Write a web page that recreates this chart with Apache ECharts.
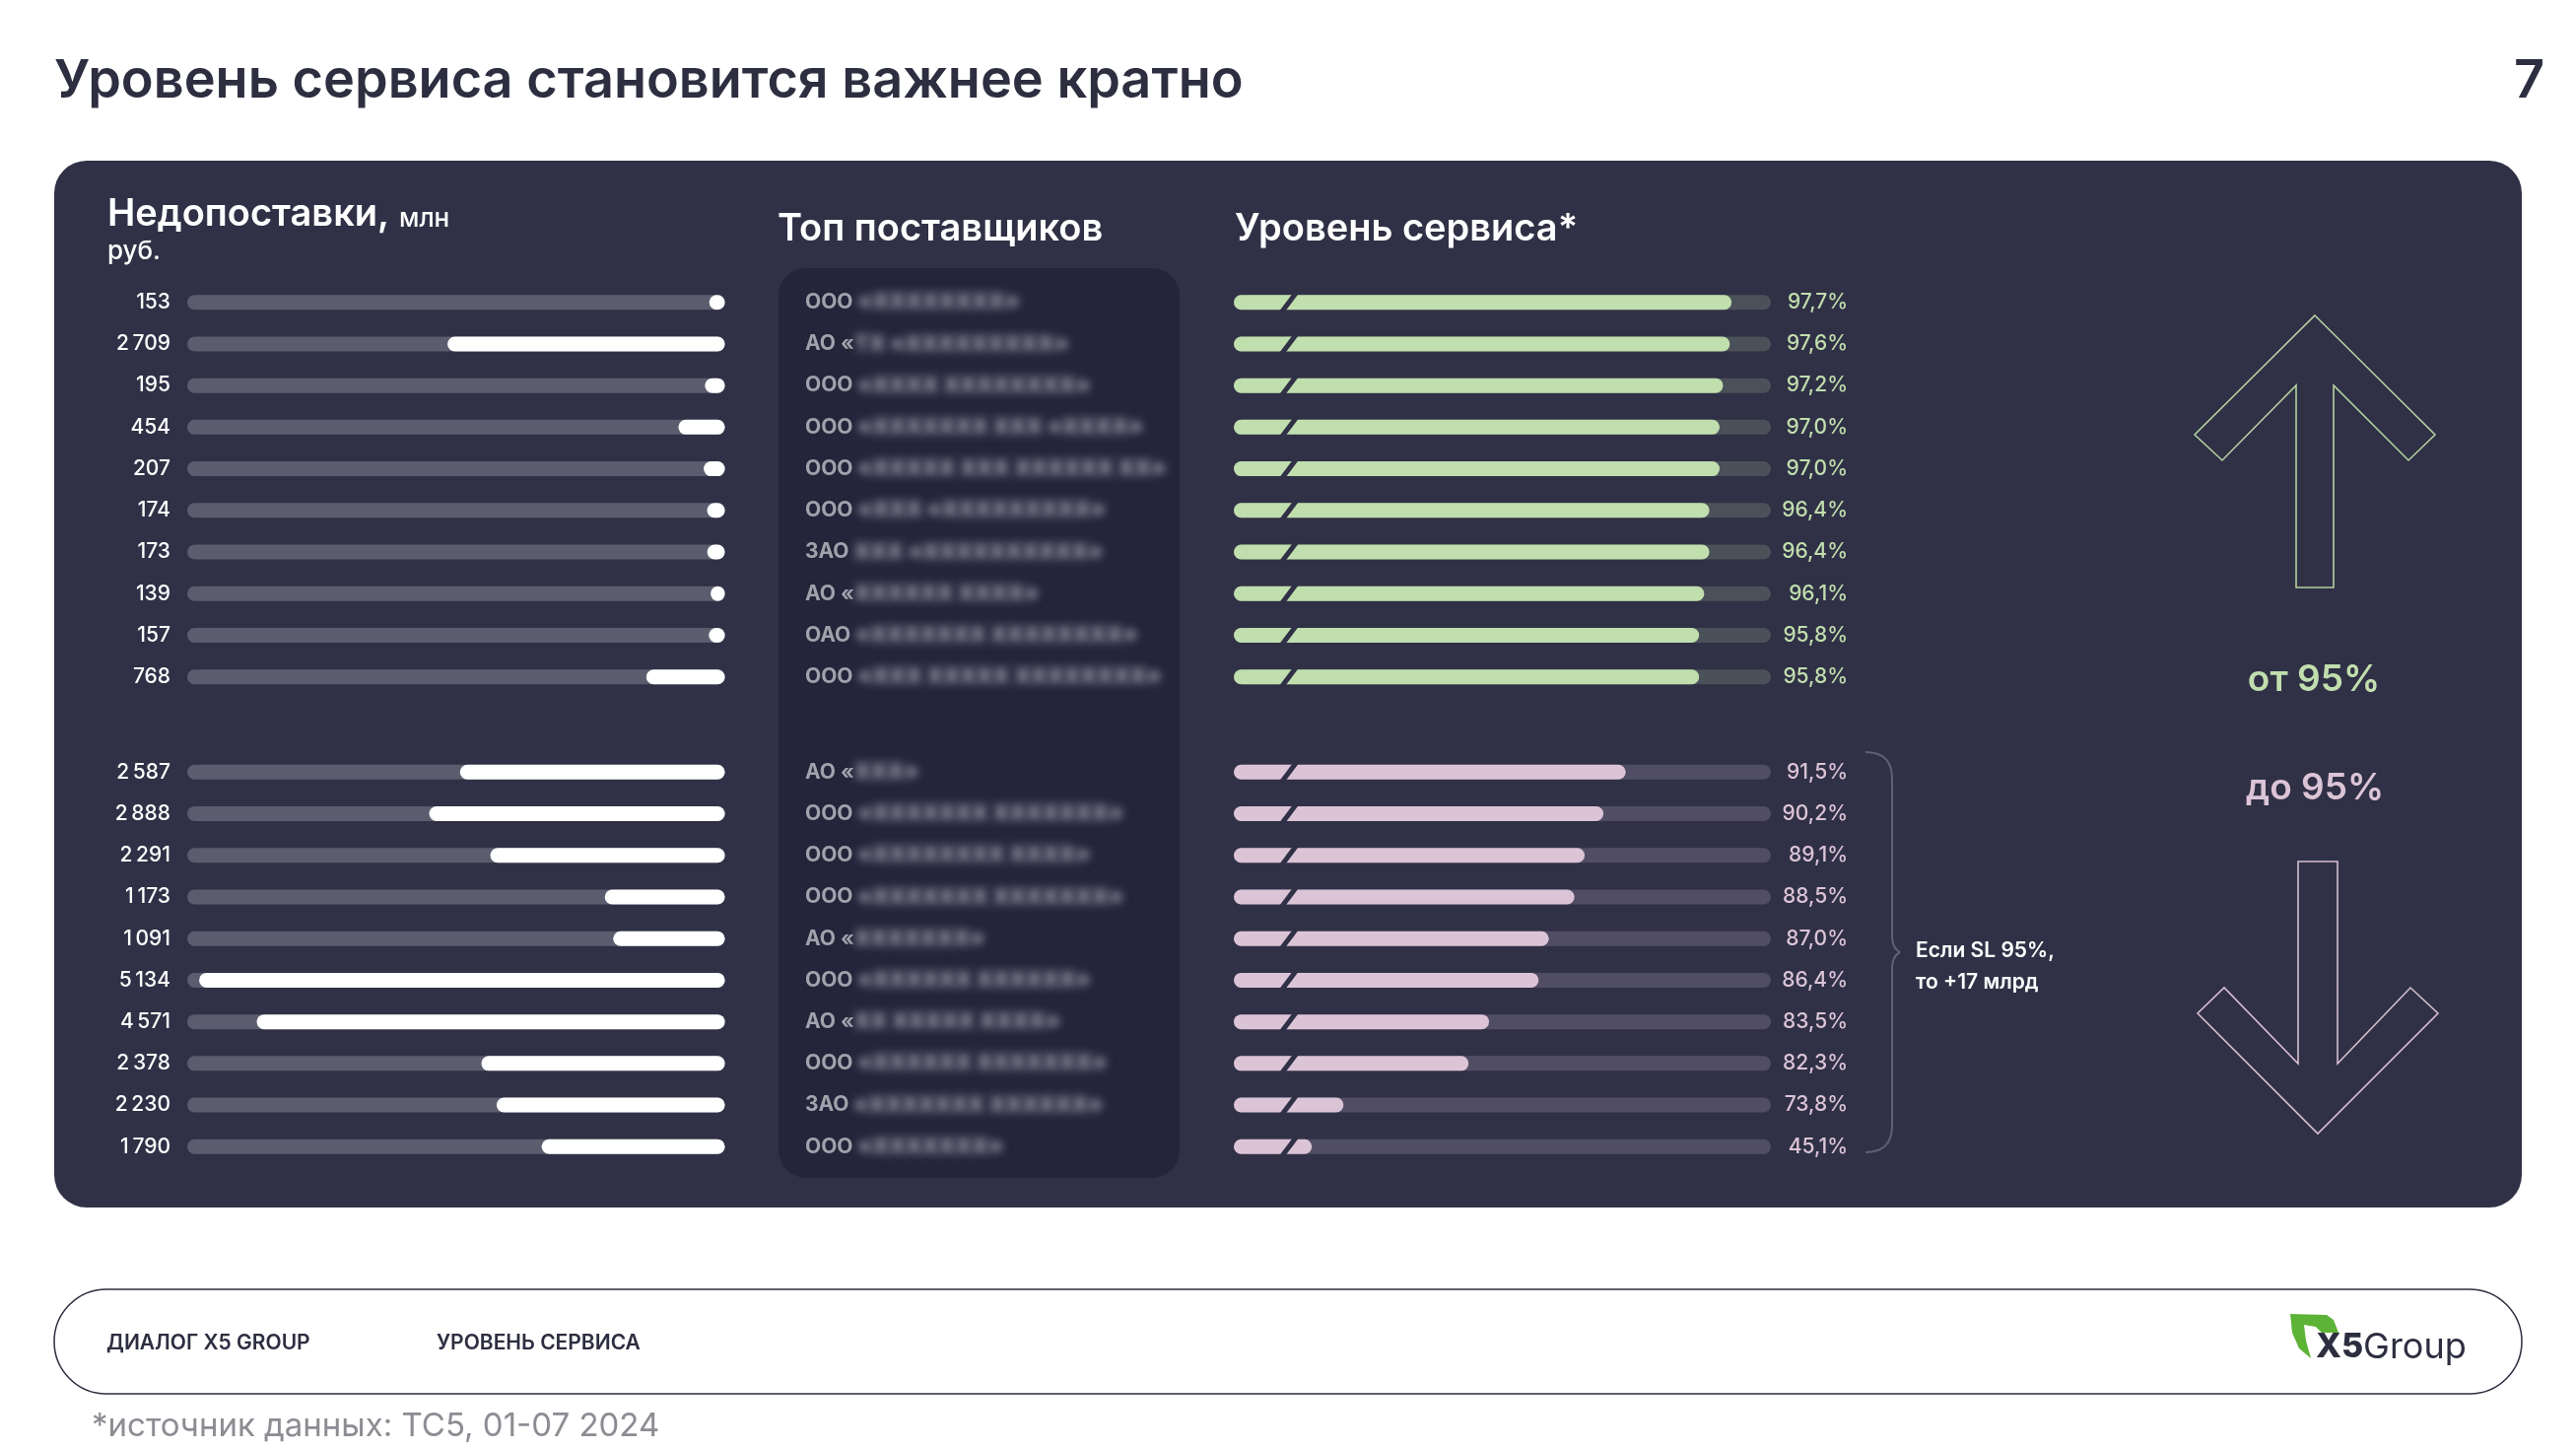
<!DOCTYPE html>
<html lang="ru">
<head>
    <meta charset="UTF-8">
    <title>Уровень сервиса</title>
    <script src="https://cdn.jsdelivr.net/npm/echarts@6/dist/echarts.min.js"></script>
    <style>
        html, body { margin: 0; padding: 0; background: #fff; }
        #chart, #blur { position: absolute; left: 0; top: 0; width: 2614px; height: 1470px; }
        #blur { filter: blur(5px); pointer-events: none; }
    </style>
</head>
<body>
<div id="chart"></div>
<div id="blur"></div>
<script type="text/javascript">
    // недопоставки, млн руб.
    var shortfallTop = [153, 2709, 195, 454, 207, 174, 173, 139, 157, 768];
    var shortfallBottom = [2587, 2888, 2291, 1173, 1091, 5134, 4571, 2378, 2230, 1790];
    // уровень сервиса, %
    var serviceTop = [97.7, 97.6, 97.2, 97.0, 97.0, 96.4, 96.4, 96.1, 95.8, 95.8];
    var serviceBottom = [91.5, 90.2, 89.1, 88.5, 87.0, 86.4, 83.5, 82.3, 73.8, 45.1];
    // поставщики (названия скрыты на исходном слайде)
    var formsTop = ['ООО', 'АО «', 'ООО', 'ООО', 'ООО', 'ООО', 'ЗАО', 'АО «', 'ОАО', 'ООО'];
    var formsBottom = ['АО «', 'ООО', 'ООО', 'ООО', 'АО «', 'ООО', 'АО «', 'ООО', 'ЗАО', 'ООО'];
    var hiddenTop = [' «ХХХХХХХХ»', 'ТХ «ХХХХХХХХХ»', ' «ХХХХ ХХХХХХХХ»', ' «ХХХХХХХ ХХХ «ХХХХ»', ' «ХХХХХ ХХХ ХХХХХХ ХХ»',
        ' «ХХХ «ХХХХХХХХХ»', ' ХХХ «ХХХХХХХХХХ»', 'ХХХХХХ ХХХХ»', ' «ХХХХХХХ ХХХХХХХХ»', ' «ХХХ ХХХХХ ХХХХХХХХ»'];
    var hiddenBottom = ['ХХХ»', ' «ХХХХХХХ ХХХХХХХ»', ' «ХХХХХХХХ ХХХХ»', ' «ХХХХХХХ ХХХХХХХ»', 'ХХХХХХХ»',
        ' «ХХХХХХ ХХХХХХ»', 'ХХ ХХХХХ ХХХХ»', ' «ХХХХХХ ХХХХХХХ»', ' «ХХХХХХХ ХХХХХХ»', ' «ХХХХХХХ»'];
    var rowNames = ['1', '2', '3', '4', '5', '6', '7', '8', '9', '10'];

    // разрыв шкалы уровня сервиса
    var serviceBreaks = [
        {start: 3, end: 44, gap: '1.5%'},
        {start: 46.5, end: 75, gap: '1.5%'}
    ];

    var PANEL = '#303146';
    var FONT = 'Inter';

    function fmtNum(v) {
        return String(v).replace(/\B(?=(\d{3})+(?!\d))/g, '\u2009');
    }

    function fmtPct(v) {
        return v.toFixed(1).replace('.', ',') + '%';
    }

    var gridTops = [285.6, 762.2];
    var grids = [];
    gridTops.forEach(function (t) { grids.push({left: 190, top: t, width: 545.6, height: 422.2}); });
    gridTops.forEach(function (t) { grids.push({left: 1000, top: t, width: 100, height: 422.2}); });
    gridTops.forEach(function (t) { grids.push({left: 1252, top: t, width: 545, height: 422.2}); });

    function catAxis(gi, opts) {
        var a = {
            gridIndex: gi, type: 'category', inverse: true, data: rowNames,
            axisLine: {show: false}, axisTick: {show: false}, splitLine: {show: false}
        };
        for (var k in opts) a[k] = opts[k];
        return a;
    }

    var xAxes = [
        {gridIndex: 0, type: 'value', inverse: true, min: 0, max: 5250, show: false},
        {gridIndex: 1, type: 'value', inverse: true, min: 0, max: 5250, show: false},
        {gridIndex: 2, type: 'value', show: false},
        {gridIndex: 3, type: 'value', show: false}
    ];
    [4, 5].forEach(function (gi) {
        xAxes.push({
            gridIndex: gi, type: 'value', min: 0, max: 100,
            breaks: serviceBreaks,
            breakArea: {itemStyle: {color: 'rgba(0,0,0,0)', borderColor: 'rgba(0,0,0,0)', borderWidth: 0, opacity: 0}},
            axisLine: {show: false}, axisTick: {show: false}, axisLabel: {show: false}, splitLine: {show: false}
        });
    });

    var valueLabel = {color: '#fff', fontSize: 21, fontWeight: 500, fontFamily: FONT, margin: 17};
    var formLabel = {align: 'left', margin: 183, color: '#a2a2ad', fontSize: 21, fontWeight: 700, fontFamily: FONT};
    var yAxes = [
        catAxis(0, {axisLabel: Object.assign({formatter: function (v, i) { return fmtNum(shortfallTop[i]); }}, valueLabel)}),
        catAxis(1, {axisLabel: Object.assign({formatter: function (v, i) { return fmtNum(shortfallBottom[i]); }}, valueLabel)}),
        catAxis(2, {axisLabel: Object.assign({formatter: function (v, i) { return formsTop[i]; }}, formLabel)}),
        catAxis(3, {axisLabel: Object.assign({formatter: function (v, i) { return formsBottom[i]; }}, formLabel)}),
        catAxis(4, {position: 'right', axisLabel: {align: 'right', margin: 78, color: '#c1deae', fontSize: 21, fontWeight: 500, fontFamily: FONT,
                formatter: function (v, i) { return fmtPct(serviceTop[i]); }}}),
        catAxis(5, {position: 'right', axisLabel: {align: 'right', margin: 78, color: '#dcc4d7', fontSize: 21, fontWeight: 500, fontFamily: FONT,
                formatter: function (v, i) { return fmtPct(serviceBottom[i]); }}})
    ];

    function shortfallSeries(idx, data) {
        return {
            type: 'bar', xAxisIndex: idx, yAxisIndex: idx, data: data, barWidth: 15,
            itemStyle: {color: '#ffffff', borderRadius: 7.5},
            showBackground: true,
            backgroundStyle: {color: '#5b5c6e', borderRadius: 7.5},
            silent: true
        };
    }

    function serviceSeries(idx, data, color, track) {
        return {
            type: 'bar', xAxisIndex: idx, yAxisIndex: idx, data: data, barWidth: 15,
            itemStyle: {color: color, borderRadius: 7.5},
            showBackground: true,
            backgroundStyle: {color: track, borderRadius: 7.5},
            silent: true
        };
    }

    // косая черта на месте разрыва шкалы
    function slashSeries(idx) {
        var mid = (serviceBreaks[0].start + serviceBreaks[0].end) / 2;
        return {
            type: 'scatter', xAxisIndex: idx, yAxisIndex: idx, z: 5, silent: true,
            symbol: 'rect', symbolSize: [5, 26], symbolRotate: -37,
            itemStyle: {color: PANEL, opacity: 1},
            data: rowNames.map(function (n, i) { return [mid, i]; })
        };
    }

    function txt(x, y, text, size, color, weight, align) {
        return {
            type: 'text', x: x, y: y, z: 1, silent: true,
            style: {
                text: text, fill: color, align: align || 'left', verticalAlign: 'middle',
                font: (weight || 500) + ' ' + size + 'px ' + FONT
            }
        };
    }

    function curve(x1, y1, cx, cy, x2, y2, color) {
        return {type: 'bezierCurve', z: 1, silent: true,
            shape: {x1: x1, y1: y1, cpx1: cx, cpy1: cy, x2: x2, y2: y2},
            style: {fill: 'none', stroke: color, lineWidth: 2}};
    }

    function seg(x1, y1, x2, y2, color) {
        return {type: 'line', z: 1, silent: true,
            shape: {x1: x1, y1: y1, x2: x2, y2: y2},
            style: {stroke: color, lineWidth: 2}};
    }

    var BRACE = '#5f6073';
    var graphics = [
        {type: 'rect', z: 0, silent: true, shape: {x: 55, y: 163, width: 2504, height: 1062, r: 33}, style: {fill: PANEL}},
        {type: 'rect', z: 0, silent: true, shape: {x: 790, y: 272, width: 407, height: 923, r: 28}, style: {fill: '#24243a'}},
        {type: 'rect', z: 0, silent: true, shape: {x: 55, y: 1308, width: 2504, height: 106, r: 53},
            style: {fill: 'none', stroke: '#2d2e40', lineWidth: 1.5}},
        txt(55, 83, 'Уровень сервиса становится важнее кратно', 54, '#2d2e40', 600),
        txt(2582, 83, '7', 54, '#2d2e40', 600, 'right'),
        txt(109, 218, 'Недопоставки,', 38, '#ffffff', 600),
        txt(405, 222, 'млн', 26, '#ffffff', 500),
        txt(109, 255, 'руб.', 26, '#ffffff', 500),
        txt(789, 233, 'Топ поставщиков', 38, '#ffffff', 600),
        txt(1253, 233, 'Уровень сервиса*', 38, '#ffffff', 600),
        txt(2348, 690, 'от 95%', 37, '#c1deae', 600, 'center'),
        txt(2349, 800, 'до 95%', 37, '#dcc4d7', 600, 'center'),
        txt(1944, 965, 'Если SL 95%,', 21, '#ffffff', 600),
        txt(1944, 997, 'то +17 млрд', 21, '#ffffff', 600),
        txt(108, 1363, 'ДИАЛОГ X5 GROUP', 21, '#2d2e40', 600),
        txt(443, 1363, 'УРОВЕНЬ СЕРВИСА', 21, '#2d2e40', 600),
        txt(93, 1447, '*источник данных: ТС5, 01-07 2024', 33, '#8c8c93', 400),
        // фигурная скобка
        curve(1893, 763, 1920, 763, 1920, 790, BRACE),
        seg(1920, 790, 1920, 950, BRACE),
        curve(1920, 950, 1920, 962, 1928, 966, BRACE),
        curve(1928, 966, 1920, 970, 1920, 982, BRACE),
        seg(1920, 982, 1920, 1142, BRACE),
        curve(1920, 1142, 1920, 1169, 1893, 1169, BRACE),
        // стрелки
        {type: 'polygon', z: 1, silent: true,
            shape: {points: [[2349, 320], [2471, 441], [2444, 467], [2368, 391], [2368, 596], [2330, 596], [2330, 391], [2255, 467], [2227, 441]]},
            style: {fill: 'none', stroke: '#b3d0a1', lineWidth: 1.6}},
        {type: 'polygon', z: 1, silent: true,
            shape: {points: [[2332, 874], [2372, 874], [2372, 1079], [2446, 1002], [2474, 1028], [2352, 1150], [2230, 1028], [2257, 1002], [2332, 1079]]},
            style: {fill: 'none', stroke: '#d6bfd1', lineWidth: 1.6}},
        // логотип
        {type: 'polygon', z: 1, silent: true,
            shape: {points: [[2324, 1333], [2361, 1334], [2368, 1339], [2373, 1352], [2356, 1352], [2350, 1346], [2338, 1344],
                    [2340, 1360], [2345, 1378], [2333, 1368], [2326, 1352]]},
            style: {fill: '#5db335'}},
        {type: 'text', x: 2350, y: 1367, z: 1, silent: true,
            style: {
                text: '{a|X5}{b|Group}', verticalAlign: 'middle',
                rich: {
                    a: {font: '800 34px ' + FONT, fill: '#2d2e40'},
                    b: {font: '400 36px ' + FONT, fill: '#2d2e40'}
                }
            }}
    ];

    var chart = echarts.init(document.getElementById('chart'));
    chart.setOption({
        backgroundColor: '#ffffff',
        animation: false,
        graphic: {elements: graphics},
        grid: grids,
        xAxis: xAxes,
        yAxis: yAxes,
        series: [
            shortfallSeries(0, shortfallTop),
            shortfallSeries(1, shortfallBottom),
            serviceSeries(4, serviceTop, '#c1deae', '#4b5159'),
            serviceSeries(5, serviceBottom, '#dcc4d7', '#514d64'),
            slashSeries(4),
            slashSeries(5)
        ]
    });

    // размытые названия поставщиков
    function blurAxis(gi, forms, hidden) {
        return catAxis(gi, {
            axisLabel: {
                align: 'left', margin: 183,
                formatter: function (v, i) { return '{p|' + forms[i] + '}{n|' + hidden[i] + '}'; },
                rich: {
                    p: {color: 'rgba(0,0,0,0)', fontSize: 21, fontWeight: 700, fontFamily: FONT},
                    n: {color: '#a8a8b6', fontSize: 22, fontWeight: 800, fontFamily: FONT}
                }
            }
        });
    }

    var blurChart = echarts.init(document.getElementById('blur'));
    blurChart.setOption({
        animation: false,
        grid: [grids[2], grids[3]],
        xAxis: [{gridIndex: 0, type: 'value', show: false}, {gridIndex: 1, type: 'value', show: false}],
        yAxis: [blurAxis(0, formsTop, hiddenTop), blurAxis(1, formsBottom, hiddenBottom)]
    });
</script>
</body>
</html>
